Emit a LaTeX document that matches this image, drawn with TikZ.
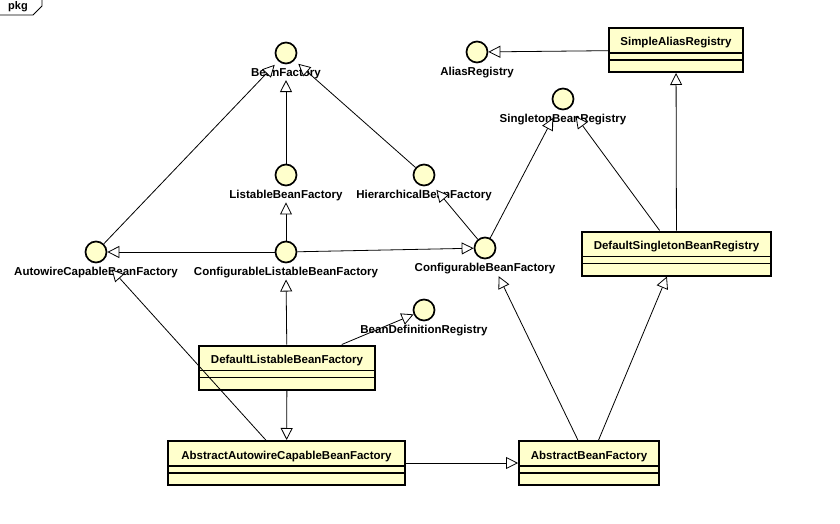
\documentclass[tikz,border=0pt]{standalone}
\usepackage{fontspec}
\setmainfont{Liberation Sans}
\usetikzlibrary{arrows.meta, positioning}
\definecolor{umlyellow}{RGB}{255,255,204}

\tikzset{
  iface/.style={circle, draw, line width=1.7pt, fill=umlyellow, minimum size=21pt, inner sep=0pt},
  ilabel/.style={font=\bfseries\fontsize{11.5}{13}\selectfont, inner sep=1pt},
  cls/.style={draw, line width=2pt, fill=umlyellow, minimum height=44pt,
    inner xsep=4pt, inner ysep=9pt, text height=9pt, text depth=17pt,
    font=\bfseries\fontsize{11.5}{13}\selectfont,
    path picture={
      \draw[line width=1.3pt] ([yshift=-25pt]path picture bounding box.north west) -- ([yshift=-25pt]path picture bounding box.north east);
      \draw[line width=1.3pt] ([yshift=-32pt]path picture bounding box.north west) -- ([yshift=-32pt]path picture bounding box.north east);
    }},
  gen/.style={draw, line width=0.8pt, -{Triangle[length=12pt, width=12pt, fill=white]}},
}

\begin{document}
\begin{tikzpicture}[x=1pt, y=-1pt]
\useasboundingbox (0,0) rectangle (840,524);

% package tab
\node[font=\bfseries\fontsize{11}{13}\selectfont] (pkg) at (18,7) {pkg};
\draw[line width=0.8pt] (0,15) -- (33,15) -- (42,6) -- (42,0);

% interfaces
\node[iface] (bf) at (286,53) {};
\node[ilabel, below=3pt of bf] (bflbl) {BeanFactory};
\node[iface] (lbf) at (286,175) {};
\node[ilabel, below=3pt of lbf] (lbflbl) {ListableBeanFactory};
\node[iface] (hbf) at (424,175) {};
\node[ilabel, below=3pt of hbf] (hbflbl) {HierarchicalBeanFactory};
\node[iface] (acbf) at (96,252) {};
\node[ilabel, below=3pt of acbf] (acbflbl) {AutowireCapableBeanFactory};
\node[iface] (clbf) at (286,252) {};
\node[ilabel, below=3pt of clbf] (clbflbl) {ConfigurableListableBeanFactory};
\node[iface] (cbf) at (485,248) {};
\node[ilabel, below=3pt of cbf] (cbflbl) {ConfigurableBeanFactory};
\node[iface] (ar) at (477,52) {};
\node[ilabel, below=3pt of ar] (arlbl) {AliasRegistry};
\node[iface] (sbr) at (563,99) {};
\node[ilabel, below=3pt of sbr] (sbrlbl) {SingletonBeanRegistry};
\node[iface] (bdr) at (424,310) {};
\node[ilabel, below=3pt of bdr] (bdrlbl) {BeanDefinitionRegistry};

% classes
\node[cls, minimum width=134pt] (sar) at (676,50) {SimpleAliasRegistry};
\node[cls, minimum width=189pt] (dsbr) at (676.5,253.5) {DefaultSingletonBeanRegistry};
\node[cls, minimum width=176pt] (dlbf) at (287,367.5) {DefaultListableBeanFactory};
\node[cls, minimum width=237pt] (aacbf) at (286.5,463) {AbstractAutowireCapableBeanFactory};
\node[cls, minimum width=140pt] (abf) at (589,463) {AbstractBeanFactory};

% generalizations
\draw[gen, shorten >=5pt] (acbf) -- (bf);
\draw[gen, shorten >=5pt] (hbf) -- (bf);
\draw[gen] (lbf) -- (bflbl);
\draw[gen] (clbf) -- (lbflbl);
\draw[gen] (clbf) -- (acbf);
\draw[gen] (clbf) -- (cbf);
\draw[gen, shorten >=8pt] (cbf) -- (hbf);
\draw[gen, shorten >=10pt] (cbf) -- (sbr);
\draw[gen, shorten >=10pt] (dsbr) -- (sbr);
\draw[gen] (dsbr) -- (sar);
\draw[gen] (sar) -- (ar);
\draw[gen] (dlbf) -- (clbflbl);
\draw[gen] (dlbf) -- (bdr);
\draw[gen] (dlbf) -- (aacbf);
\draw[gen, shorten >=12pt] (aacbf) -- (acbf);
\draw[gen] (aacbf) -- (abf);
\draw[gen, shorten >=20pt] (abf) -- (cbf);
\draw[gen] (abf) -- (dsbr);

\end{tikzpicture}
\end{document}
